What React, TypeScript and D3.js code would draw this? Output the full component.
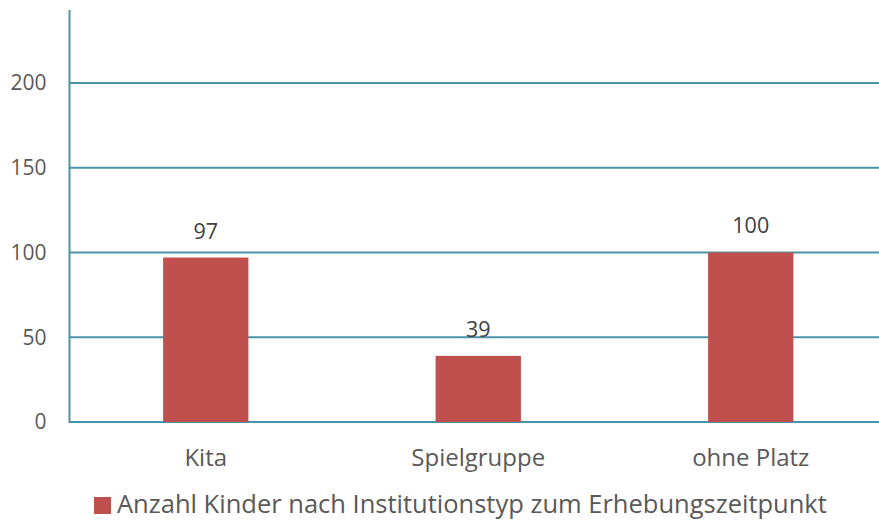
import React, { useEffect, useRef } from 'react';
import * as d3 from 'd3';

const categories = ['Kita', 'Spielgruppe', 'ohne Platz'];
const values = [97, 39, 100];
const yTicks = [0, 50, 100, 150, 200];
const seriesName = 'Anzahl Kinder nach Institutionstyp zum Erhebungszeitpunkt';

const App = () => {
    const ref = useRef<SVGSVGElement>(null);

    useEffect(() => {
        const width = 879;
        const height = 520;
        const margin = { top: 10, right: -8, bottom: 98, left: 69.5 };
        const gridColor = '#4a93a8';
        const textColor = '#595959';
        const barColor = '#c0504d';

        const svg = d3.select(ref.current);
        svg.selectAll('*').remove();

        const x = d3
            .scaleBand()
            .domain(categories)
            .range([margin.left, width - margin.right])
            .paddingInner(0.687)
            .paddingOuter(0.3435);

        const y = d3
            .scaleLinear()
            .domain([0, 243])
            .range([height - margin.bottom, margin.top]);

        // gridlines
        svg.append('g')
            .selectAll('line')
            .data(yTicks)
            .join('line')
            .attr('x1', margin.left)
            .attr('x2', width)
            .attr('y1', d => y(d))
            .attr('y2', d => y(d))
            .attr('stroke', gridColor)
            .attr('stroke-width', 2);

        // y axis line
        svg.append('line')
            .attr('x1', margin.left)
            .attr('x2', margin.left)
            .attr('y1', y(0) + 1)
            .attr('y2', y(243))
            .attr('stroke', gridColor)
            .attr('stroke-width', 2);

        // tick labels
        svg.append('g')
            .attr('fill', textColor)
            .style('font', '21px "Open Sans", sans-serif')
            .attr('text-anchor', 'end')
            .selectAll('text')
            .data(yTicks)
            .join('text')
            .attr('x', margin.left - 23)
            .attr('y', d => y(d))
            .attr('dy', '0.35em')
            .text(d => d);

        // bars
        svg.append('g')
            .selectAll('rect')
            .data(values)
            .join('rect')
            .attr('x', (d, i) => x(categories[i]))
            .attr('width', x.bandwidth())
            .attr('y', d => y(d))
            .attr('height', d => y(0) - y(d))
            .attr('fill', barColor);

        // value labels
        svg.append('g')
            .attr('fill', '#404040')
            .style('font', '21.5px "Open Sans", sans-serif')
            .attr('text-anchor', 'middle')
            .selectAll('text')
            .data(values)
            .join('text')
            .attr('x', (d, i) => x(categories[i]) + x.bandwidth() / 2)
            .attr('y', d => y(d) - 19)
            .text(d => d);

        // category labels
        svg.append('g')
            .attr('fill', textColor)
            .style('font', '24px "Open Sans", sans-serif')
            .attr('text-anchor', 'middle')
            .selectAll('text')
            .data(categories)
            .join('text')
            .attr('x', d => x(d) + x.bandwidth() / 2)
            .attr('y', y(0) + 44)
            .text(d => d);

        // legend
        const legend = svg.append('g');
        legend.append('rect')
            .attr('x', 94)
            .attr('y', 497)
            .attr('width', 17)
            .attr('height', 17)
            .attr('fill', barColor);
        legend.append('text')
            .attr('x', 117)
            .attr('y', 513)
            .attr('fill', textColor)
            .style('font', '25.5px "Open Sans", sans-serif')
            .text(seriesName);
    }, []);

    return (
        <svg
            ref={ref}
            width={879}
            height={520}
            style={{ position: 'absolute', left: 0, top: 0, background: '#fff' }}
        />
    );
};

export default App;
